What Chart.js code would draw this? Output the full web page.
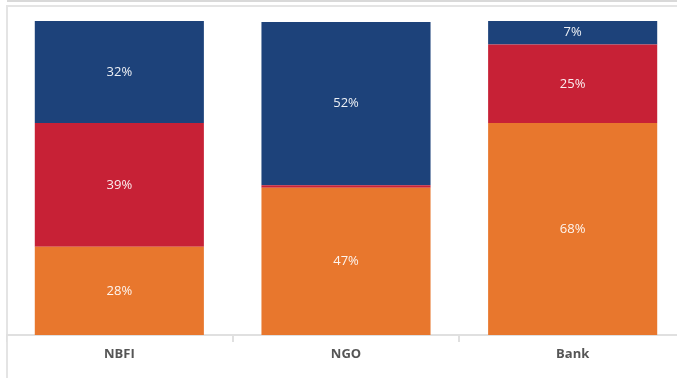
<!DOCTYPE html>
<html>
<head>
<meta charset="utf-8">
<script src="https://cdn.jsdelivr.net/npm/chart.js@4"></script>
<style>
html,body{margin:0;padding:0;background:#fff;overflow:hidden;width:677px;height:378px;}
#topbar{position:absolute;left:7px;top:0;width:670px;height:2px;background:#d9d9d9;}
#frameTop{position:absolute;left:6px;top:5px;width:671px;height:2px;background:#e4e4e4;}
#frameLeft{position:absolute;left:6px;top:5px;width:2px;height:373px;background:#e4e4e4;}
#wrap{position:absolute;left:6px;top:6px;width:680px;height:372px;}
</style>
</head>
<body>
<div id="topbar"></div>
<div id="frameTop"></div>
<div id="frameLeft"></div>
<div id="wrap"><canvas id="c" width="680" height="372"></canvas></div>
<script>
const categories = ["NBFI", "NGO", "Bank"];
const seriesNames = ["Orange", "Red", "Blue"];
const orangeValues = [28.1, 46.9, 67.5];
const redValues = [39.4, 0.8, 25.0];
const blueValues = [32.49, 52.0, 7.49];
const minLabelValue = 3;

const colors = ["#e8772d", "#c72136", "#1d427a"];

const labelPlugin = {
  id: 'segLabels',
  afterDatasetsDraw(chart) {
    const ctx = chart.ctx;
    ctx.save();
    ctx.font = '13px "Open Sans"';
    ctx.fillStyle = 'rgba(255,255,255,0.92)';
    ctx.textAlign = 'center';
    ctx.textBaseline = 'middle';
    chart.data.datasets.forEach((ds, di) => {
      const meta = chart.getDatasetMeta(di);
      meta.data.forEach((bar, i) => {
        const v = ds.data[i];
        if (v < minLabelValue) return;
        const y = (bar.y + bar.base) / 2;
        ctx.fillText(Math.round(v) + '%', bar.x, y);
      });
    });
    ctx.restore();
  }
};

new Chart(document.getElementById('c'), {
  type: 'bar',
  data: {
    labels: categories,
    datasets: [
      { label: seriesNames[0], data: orangeValues, backgroundColor: colors[0] },
      { label: seriesNames[1], data: redValues, backgroundColor: colors[1] },
      { label: seriesNames[2], data: blueValues, backgroundColor: colors[2] }
    ]
  },
  options: {
    responsive: false,
    animation: false,
    devicePixelRatio: 1,
    layout: { padding: { top: 15, left: 0, right: 0, bottom: 0 } },
    plugins: { legend: { display: false }, tooltip: { enabled: false } },
    datasets: { bar: { categoryPercentage: 1, barPercentage: 0.746, borderWidth: 0 } },
    scales: {
      x: {
        stacked: true,
        offset: true,
        grid: { offset: true, drawOnChartArea: false, drawTicks: true, tickLength: 7, color: '#e0e0e0', lineWidth: 2 },
        border: { display: true, color: '#e0e0e0', width: 2 },
        ticks: { color: '#555', font: { family: 'Open Sans', size: 13, weight: 'bold' }, padding: 4, maxRotation: 0 },
        afterFit(scale) { scale.height = 43; }
      },
      y: {
        stacked: true,
        display: false,
        min: 0,
        max: 100
      }
    }
  },
  plugins: [labelPlugin]
});
</script>
</body>
</html>
